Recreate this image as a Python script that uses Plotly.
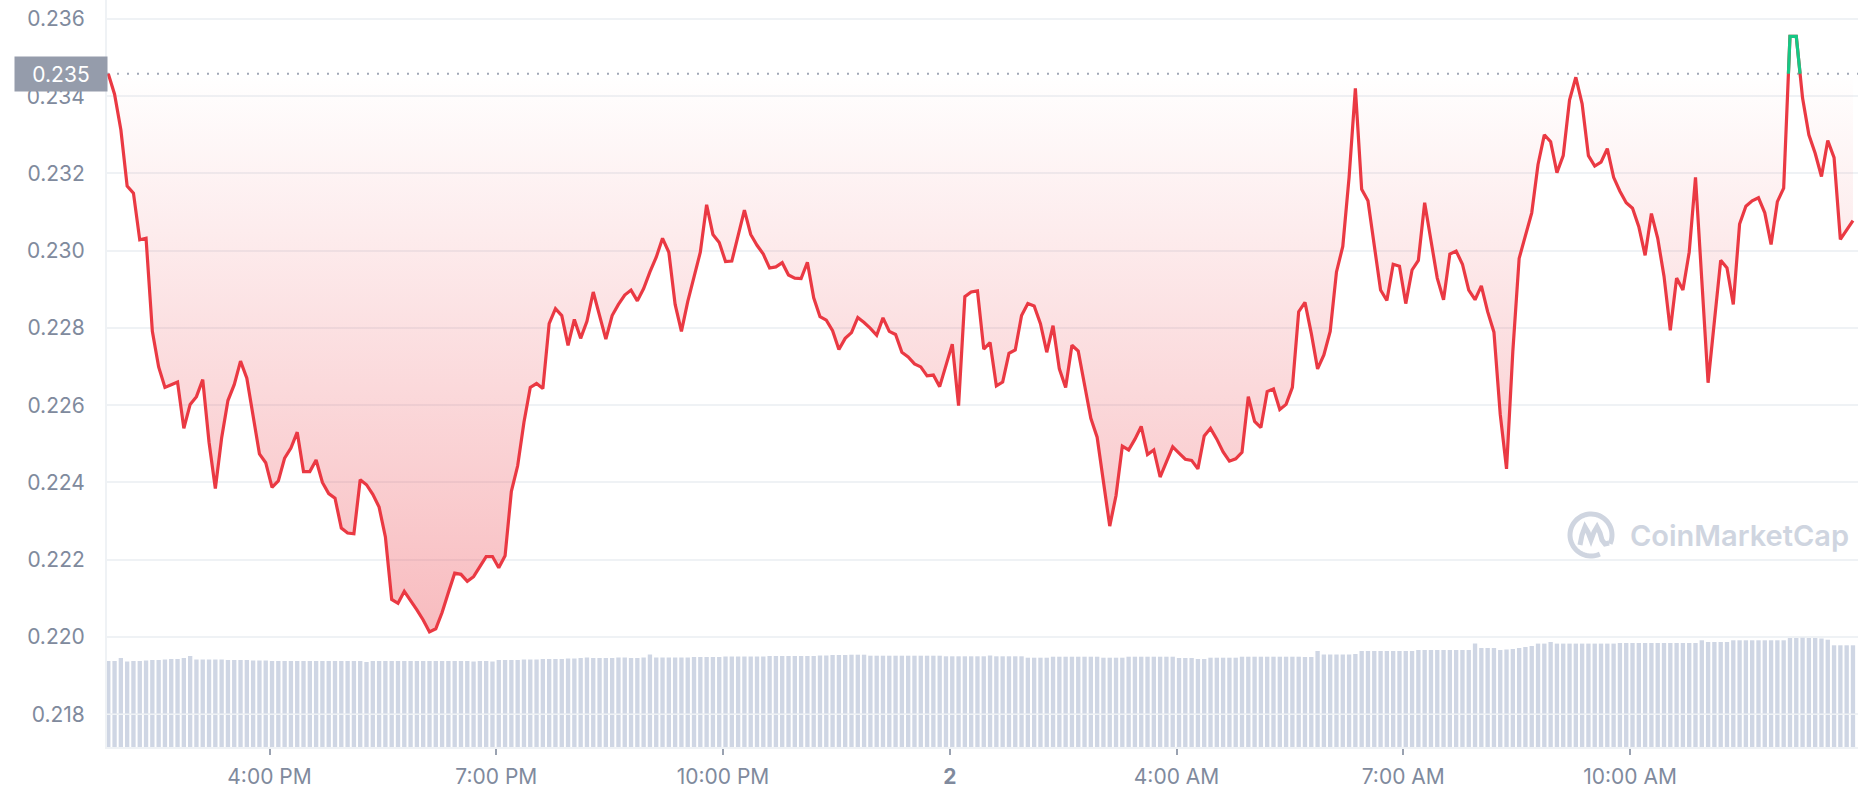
import numpy as np
import pandas as pd
import plotly.graph_objects as go

# ---------------- data ----------------
price = [
    0.23458, 0.23405, 0.23313, 0.23167, 0.23149, 0.23028, 0.23032, 0.22791, 0.22699, 0.22646,
    0.22653, 0.22660, 0.22540, 0.22602, 0.22622, 0.22666, 0.22504, 0.22384, 0.22515, 0.22612,
    0.22653, 0.22714, 0.22670, 0.22566, 0.22474, 0.22451, 0.22387, 0.22404, 0.22463, 0.22489,
    0.22530, 0.22428, 0.22428, 0.22458, 0.22400, 0.22371, 0.22359, 0.22282, 0.22269, 0.22267,
    0.22407, 0.22394, 0.22369, 0.22336, 0.22259, 0.22097, 0.22087, 0.22118, 0.22095, 0.22070,
    0.22044, 0.22013, 0.22021, 0.22063, 0.22115, 0.22165, 0.22162, 0.22144, 0.22156, 0.22182,
    0.22208, 0.22208, 0.22179, 0.22210, 0.22377, 0.22443, 0.22556, 0.22646, 0.22656, 0.22643,
    0.22811, 0.22850, 0.22832, 0.22755, 0.22822, 0.22773, 0.22817, 0.22893, 0.22832, 0.22771,
    0.22832, 0.22861, 0.22885, 0.22898, 0.22870, 0.22902, 0.22945, 0.22983, 0.23032, 0.22996,
    0.22861, 0.22791, 0.22868, 0.22929, 0.22996, 0.23119, 0.23042, 0.23021,
    0.22972, 0.22973, 0.23037, 0.23105, 0.23042, 0.23014, 0.22991, 0.22955, 0.22958, 0.22969,
    0.22937, 0.22929, 0.22928, 0.22970, 0.22878, 0.22829, 0.22820, 0.22793, 0.22744, 0.22773,
    0.22788, 0.22827, 0.22814, 0.22799, 0.22781, 0.22826, 0.22791, 0.22783, 0.22737, 0.22725,
    0.22707, 0.22699, 0.22676, 0.22678, 0.22648, 0.22703, 0.22758, 0.22599, 0.22881, 0.22893,
    0.22896, 0.22745, 0.22762, 0.22650, 0.22660, 0.22734, 0.22743,
    0.22832, 0.22863, 0.22857, 0.22811, 0.22737, 0.22806, 0.22694, 0.22646, 0.22755, 0.22740,
    0.22653, 0.22566, 0.22517, 0.22402, 0.22287, 0.22366, 0.22494, 0.22484, 0.22512, 0.22545,
    0.22472, 0.22484, 0.22414, 0.22453, 0.22492, 0.22476, 0.22460, 0.22457, 0.22435, 0.22520,
    0.22540, 0.22512, 0.22479, 0.22455, 0.22461, 0.22478, 0.22622, 0.22558, 0.22542, 0.22635,
    0.22642, 0.22589, 0.22602, 0.22646, 0.22842, 0.22866, 0.22786, 0.22694,
    0.22730, 0.22791, 0.22945, 0.23011, 0.23190, 0.23420, 0.23159, 0.23129, 0.23016, 0.22898,
    0.22871, 0.22965, 0.22960, 0.22863, 0.22950, 0.22975, 0.23124, 0.23026, 0.22929, 0.22873,
    0.22991, 0.22999, 0.22965, 0.22898, 0.22873, 0.22909, 0.22842, 0.22789, 0.22576, 0.22435,
    0.22740, 0.22980, 0.23042, 0.23098, 0.23223, 0.23300, 0.23282, 0.23202, 0.23246, 0.23390,
    0.23449, 0.23380, 0.23246, 0.23219, 0.23229, 0.23264, 0.23190, 0.23154,
    0.23124, 0.23110, 0.23062, 0.22988, 0.23096, 0.23032, 0.22934, 0.22794, 0.22929, 0.22898,
    0.22996, 0.23190, 0.22924, 0.22658, 0.22817, 0.22975, 0.22955, 0.22861, 0.23069, 0.23115,
    0.23129, 0.23137, 0.23098, 0.23016, 0.23127, 0.23162, 0.23555, 0.23555, 0.23395, 0.23300,
    0.23252, 0.23192, 0.23285, 0.23241, 0.23029, 0.23054, 0.23078,
]

volume = [
    8.6, 8.6, 8.9, 8.55, 8.6, 8.6, 8.65, 8.7, 8.7, 8.75,
    8.8, 8.8, 8.9, 9.1, 8.75, 8.75, 8.75, 8.75, 8.75, 8.7,
    8.7, 8.7, 8.7, 8.65, 8.65, 8.65, 8.6, 8.6, 8.6, 8.6,
    8.6, 8.6, 8.6, 8.6, 8.6, 8.6, 8.6, 8.6, 8.6, 8.6,
    8.6, 8.5, 8.6, 8.6, 8.6, 8.6, 8.6, 8.6, 8.6, 8.6,
    8.6, 8.6, 8.6, 8.6, 8.6, 8.6, 8.6, 8.6, 8.55, 8.6,
    8.6, 8.55, 8.7, 8.7, 8.7, 8.7, 8.75, 8.75, 8.75, 8.8,
    8.8, 8.8, 8.8, 8.85, 8.85, 8.9, 8.95, 8.9, 8.9, 8.9,
    8.9, 8.95, 8.95, 8.9, 8.9, 8.95, 9.25, 8.95, 8.95, 8.95,
    8.95, 8.95, 8.95, 9.0, 9.0, 9.0, 9.0, 9.0, 9.05, 9.05,
    9.05, 9.05, 9.05, 9.05, 9.05, 9.1, 9.1, 9.1, 9.1, 9.1,
    9.1, 9.1, 9.1, 9.15, 9.15, 9.2, 9.2, 9.2, 9.23, 9.23,
    9.23, 9.13, 9.13, 9.13, 9.13, 9.13, 9.13, 9.13, 9.13, 9.13,
    9.13, 9.13, 9.13, 9.07, 9.07, 9.07, 9.07, 9.07, 9.07, 9.07,
    9.15, 9.07, 9.07, 9.07, 9.07, 9.07, 8.93, 8.93, 8.93, 8.93,
    9.03, 9.03, 9.03, 9.03, 9.03, 9.03, 9.03, 9.03, 8.93, 8.93,
    8.93, 8.93, 9.03, 9.03, 9.03, 9.03, 9.03, 9.03, 9.03, 9.03,
    8.9, 8.9, 8.9, 8.8, 8.8, 8.93, 8.93, 8.93, 8.93, 8.93,
    9.03, 9.03, 9.03, 9.03, 9.03, 9.03, 9.03, 9.03, 9.03, 9.03,
    9.0, 9.0, 9.6, 9.25, 9.25, 9.25, 9.25, 9.25, 9.3, 9.6,
    9.6, 9.6, 9.6, 9.6, 9.6, 9.6, 9.6, 9.6, 9.7, 9.7,
    9.7, 9.7, 9.7, 9.7, 9.7, 9.7, 9.7, 10.35, 9.9, 9.9,
    9.9, 9.7, 9.75, 9.8, 9.9, 10.0, 10.1, 10.34, 10.34, 10.5,
    10.34, 10.34, 10.34, 10.34, 10.34, 10.34, 10.34, 10.34, 10.34, 10.34,
    10.4, 10.4, 10.4, 10.4, 10.4, 10.4, 10.4, 10.4, 10.4, 10.4,
    10.4, 10.4, 10.4, 10.67, 10.5, 10.5, 10.5, 10.5, 10.67, 10.67,
    10.67, 10.67, 10.67, 10.67, 10.67, 10.67, 10.67, 10.9, 10.9, 10.93,
    10.9, 10.9, 10.85, 10.73, 10.17, 10.17, 10.17, 10.17,
]

start_time = "2023-06-01 13:52"
x_range = ["2023-06-01 13:51", "2023-06-02 13:01"]
tick_times = ["2023-06-01 16:00", "2023-06-01 19:00", "2023-06-01 22:00",
              "2023-06-02 01:00", "2023-06-02 04:00", "2023-06-02 07:00", "2023-06-02 10:00"]
tick_labels = ["4:00 PM", "7:00 PM", "10:00 PM", "<b>2</b>", "4:00 AM", "7:00 AM", "10:00 AM"]
y_ticks = [0.218, 0.220, 0.222, 0.224, 0.226, 0.228, 0.230, 0.232, 0.234, 0.236]
y_range = [0.21715, 0.23649]
vol_range = [0, 74.7]

RED = "#ea3943"
GREEN = "#16c784"
GRID = "#eff2f5"
LABEL = "#808a9d"
BAR = "#cfd6e4"

times = pd.date_range(start_time, periods=len(price), freq="5min")
base = price[0]
low = min(price)

# ---------------- green part (above the opening price) ----------------
gx, gy = [], []
for k in range(len(price) - 1):
    p0, p1 = price[k], price[k + 1]
    t0, t1 = times[k], times[k + 1]
    if p0 <= base and p1 <= base:
        continue
    if p0 >= base and p1 >= base:
        seg = [(t0, p0), (t1, p1)]
    elif p0 < base:
        f = (base - p0) / (p1 - p0)
        seg = [(t0 + (t1 - t0) * f, base), (t1, p1)]
    else:
        f = (p0 - base) / (p0 - p1)
        seg = [(t0, p0), (t0 + (t1 - t0) * f, base)]
    if gx and gx[-1] is not None and gx[-1] != seg[0][0]:
        gx.append(None)
        gy.append(None)
    for t, v in seg:
        gx.append(t)
        gy.append(v)

fig = go.Figure()

fig.add_trace(go.Bar(
    x=times, y=volume, yaxis="y2", marker=dict(color=BAR, line=dict(width=0)),
    hoverinfo="skip", showlegend=False,
))

fig.add_trace(go.Scatter(
    x=times, y=[base] * len(times), mode="lines", line=dict(width=0, color="rgba(0,0,0,0)"),
    hoverinfo="skip", showlegend=False,
))

fig.add_trace(go.Scatter(
    x=times, y=price, mode="lines", line=dict(color=RED, width=3.2),
    fill="tonexty",
    fillgradient=dict(
        type="vertical",
        colorscale=[[0, "rgba(234,57,67,0.34)"], [1, "rgba(234,57,67,0)"]],
        start=low, stop=base,
    ),
    showlegend=False,
))

fig.add_trace(go.Scatter(
    x=gx, y=gy, mode="lines", line=dict(color=GREEN, width=3.2), showlegend=False,
    connectgaps=False,
))

# ---------------- layout ----------------
W, H = 1858, 800
ML, MR, MT, MB = 107, 0, 0, 53
PW, PH = W - ML - MR, H - MT - MB


def pp(px, py):
    return (px - ML) / PW, 1 - (py - MT) / PH


shapes = [
    dict(type="line", xref="paper", yref="y", x0=0, x1=1, y0=base, y1=base,
         line=dict(color="#a1a8b6", width=2, dash="2px,8px"), layer="below"),
    dict(type="line", xref="paper", yref="y", x0=0, x1=1, y0=0.218, y1=0.218,
         line=dict(color=GRID, width=1.5), layer="above"),
]

# watermark logo
cx, cy, r = 1591, 535, 21
ang = np.deg2rad(np.linspace(-25, 295, 60))
ring = [pp(cx + r * np.cos(a), cy - r * np.sin(a)) for a in ang]
ring_path = "M " + " L ".join(f"{x:.5f},{y:.5f}" for x, y in ring)
m_pts = [(-11, 10), (-9, 0), (-6, -8), (-3, -3), (0, 5), (3, -3), (6, -8), (9, -2),
         (11, 5), (14, 9), (18, 8)]
m_path = "M " + " L ".join("{:.5f},{:.5f}".format(*pp(cx + dx, cy + dy)) for dx, dy in m_pts)
for pth in (ring_path, m_path):
    shapes.append(dict(type="path", xref="paper", yref="paper", path=pth,
                       line=dict(color="#cfd5e0", width=5), layer="below"))

wx, wy = pp(1628, 535)
annotations = [
    dict(xref="paper", yref="paper", x=wx, y=wy, xanchor="left", yanchor="middle",
         text="CoinMarketCap", showarrow=False,
         font=dict(family="Inter", size=29, color="#cfd5e0", weight=600)),
    dict(xref="paper", yref="y", x=0, y=base, xanchor="right", yanchor="middle",
         text=f"{base:.3f}", showarrow=False, xshift=1,
         bgcolor="#959cab", borderpad=3, width=86, height=28,
         font=dict(family="Inter", size=21, color="white")),
]

fig.update_layout(
    width=W, height=H,
    margin=dict(l=ML, r=MR, t=MT, b=MB, pad=0),
    paper_bgcolor="white", plot_bgcolor="white",
    font=dict(family="Inter", size=21, color=LABEL),
    bargap=0.31,
    hovermode=False,
    shapes=shapes,
    annotations=annotations,
    xaxis=dict(
        type="date", range=x_range,
        tickvals=tick_times, ticktext=tick_labels,
        showgrid=False, zeroline=False,
        showline=True, linecolor=GRID, linewidth=2,
        ticks="outside", ticklen=6, tickwidth=2, tickcolor="#9aa2b1",
        ticklabelstandoff=4,
        tickfont=dict(family="Inter", size=21, color=LABEL),
    ),
    yaxis=dict(
        range=y_range, tickvals=y_ticks, tickformat=".3f",
        showgrid=True, gridcolor=GRID, gridwidth=1.5,
        zeroline=False, showline=True, linecolor=GRID, linewidth=2,
        ticks="", ticklabelstandoff=16,
        tickfont=dict(family="Inter", size=21, color=LABEL),
    ),
    yaxis2=dict(range=vol_range, overlaying="y", visible=False, showgrid=False),
)

fig.write_html("out.html", config={"displayModeBar": False},
               post_script="document.body.style.margin='0';")
